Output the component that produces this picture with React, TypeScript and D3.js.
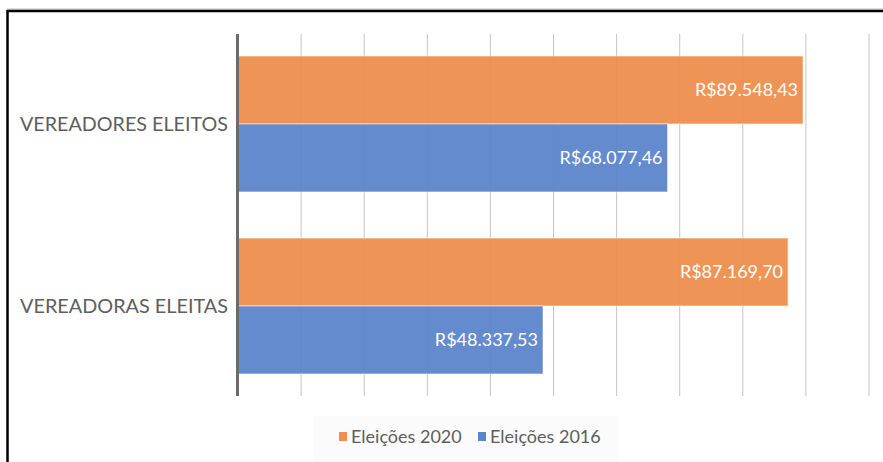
import React, { useEffect } from "react";
import * as d3 from "d3";

const categories = ["VEREADORES ELEITOS", "VEREADORAS ELEITAS"];
const seriesNames = ["Eleições 2020", "Eleições 2016"];
const values2020 = [89548.43, 87169.7];
const values2016 = [68077.46, 48337.53];
const xTicks = [0, 10000, 20000, 30000, 40000, 50000, 60000, 70000, 80000, 90000, 100000];

const colors = ["#EE8D4C", "#5A84CB"];
const W = 883;
const H = 462;
const font = "Lato, 'Open Sans', sans-serif";

const brl = d3.formatLocale({ decimal: ",", thousands: ".", grouping: [3], currency: ["R$", ""] }).format("$,.2f");

export default function App() {
  useEffect(() => {
    document.body.style.margin = "0";
  }, []);

  const x = d3.scaleLinear().domain([0, 100000]).range([238, 869]);
  const y = d3.scaleBand<string>().domain(categories).range([33, 397]).paddingInner(0.253).paddingOuter(0.1265);
  const sub = d3.scaleBand<string>().domain(seriesNames).range([0, y.bandwidth()]);
  const series = [values2020, values2016];

  return (
    <svg width={W} height={H} style={{ display: "block", background: "#fff" }}>
      {/* frame */}
      <line x1={7} x2={W} y1={9} y2={9} stroke="#bdbdbd" strokeWidth={1} />
      <path d={`M7.5,${H} L7.5,11 L${W},11`} fill="none" stroke="#000" strokeWidth={2.5} />

      {/* gridlines */}
      {xTicks.slice(1).map(t => (
        <line key={t} x1={x(t)} x2={x(t)} y1={34} y2={396} stroke="#c6c6c6" strokeWidth={1} />
      ))}

      {/* bars */}
      {categories.map((c, i) =>
        seriesNames.map((s, j) => {
          const v = series[j][i];
          const by = (y(c) as number) + (sub(s) as number);
          return (
            <g key={c + s}>
              <rect x={x(0)} y={by} width={x(v) - x(0)} height={sub.bandwidth()} fill={colors[j]} fillOpacity={0.94}
                stroke="#fff" strokeOpacity={0.55} strokeWidth={1} />
              <text x={x(v) - 5} y={by + sub.bandwidth() / 2} dy="0.35em" textAnchor="end" fill="#fff"
                fontFamily={font} fontSize={18}>{brl(v)}</text>
            </g>
          );
        })
      )}

      {/* axis line */}
      <line x1={x(0) - 0.5} x2={x(0) - 0.5} y1={34} y2={396} stroke="#6b6b6b" strokeWidth={3} />

      {/* category labels */}
      {categories.map(c => (
        <text key={c} x={228} y={(y(c) as number) + y.bandwidth() / 2} dy="0.35em" textAnchor="end"
          fill="#5e5e5e" fontFamily={font} fontSize={19} textLength={208} lengthAdjust="spacingAndGlyphs">{c}</text>
      ))}

      {/* legend */}
      <rect x={314} y={416} width={304} height={46} fill="#fbfbfb" />
      {seriesNames.map((s, j) => {
        const lx = j === 0 ? 339 : 478;
        return (
          <g key={s}>
            <rect x={lx} y={432} width={8} height={9} fill={colors[j]} />
            <text x={lx + 12} y={437} dy="0.35em" fill="#5e5e5e" fontFamily={font} fontSize={18}>{s}</text>
          </g>
        );
      })}
    </svg>
  );
}
